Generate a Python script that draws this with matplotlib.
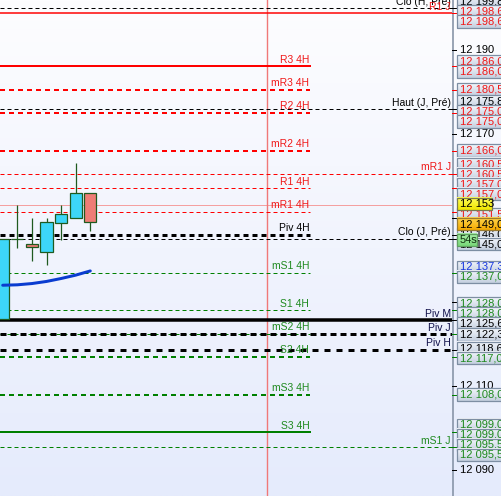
import numpy as np
import matplotlib.pyplot as plt
from matplotlib.patches import Rectangle
import matplotlib.transforms as mtransforms

plt.rcParams['font.family'] = ['Liberation Sans', 'DejaVu Sans']
plt.rcParams['lines.scale_dashes'] = False

# candles, oldest first
c_open = [12126.0, 12144.9, 12143.9, 12142.0, 12148.9, 12149.9, 12155.9]
c_high = [12145.0, 12153.0, 12149.9, 12150.0, 12153.0, 12163.0, 12155.9]
c_low = [12126.0, 12142.9, 12139.8, 12138.8, 12144.8, 12149.9, 12146.9]
c_close = [12145.0, 12145.0, 12143.0, 12149.0, 12150.9, 12155.9, 12149.0]
ma_vals = [12134.0, 12134.1, 12134.4, 12134.9, 12135.6, 12136.4, 12137.4]
ma_label = 12137.3
last_price = 12153.0
timer_text = '54s'
now_index = 18.1
period_end = 21.05

# 4H pivot levels
names_4h = ['R3 4H', 'mR3 4H', 'R2 4H', 'mR2 4H', 'R1 4H', 'mR1 4H', 'Piv 4H',
            'mS1 4H', 'S1 4H', 'mS2 4H', 'S2 4H', 'mS3 4H', 'S3 4H']
prices_4h = [12186.0, 12180.5, 12175.0, 12166.0, 12157.0, 12151.5, 12146.0,
             12137.0, 12128.0, 12122.5, 12117.0, 12108.0, 12099.0]
box_4h = [1, 1, 1, 1, 1, 1, 1, 1, 1, 0, 1, 1, 1]

# daily / weekly / monthly levels (full width)
names_day = ['Clo (H, Pré)', 'R1 J', 'Haut (J, Pré)', 'mR1 J', 'Clo (J, Pré)',
             'Piv M', 'Piv J', 'Piv H', 'mS1 J']
prices_day = [12199.85, 12198.67, 12175.8, 12160.5, 12145.0,
              12125.67, 12122.33, 12118.67, 12095.5]

# levels that show a second price box on the scale
dup_prices = [12198.67, 12186.0, 12175.0, 12160.5, 12157.0, 12128.0, 12099.0, 12095.5]
dup_colors = ['red', 'red', 'red', 'red', 'red', 'green', 'green', 'green']
axis_ticks = [12190, 12170, 12150, 12130, 12110, 12090]

# styles
RED, GREEN, BLACK, NAVY = '#ff0000', '#008000', '#000000', '#10104a'
TRED, TGREEN = '#f01818', '#1f8a1f'
col_4h = [RED] * 6 + [BLACK] + [GREEN] * 6
txt_4h = [TRED] * 6 + [BLACK] + [TGREEN] * 6
lw_4h = [2, 2, 2, 2, 1, 1, 3, 1, 1, 1, 2, 2, 2]
dash_4h = [None, (5, 4), (5, 4), (5, 4), (4, 3), (4, 3), (5, 4),
           (4, 3), (4, 3), (4, 3), (5, 4), (5, 4), None]
col_day = [BLACK, RED, BLACK, RED, BLACK, BLACK, BLACK, BLACK, GREEN]
txt_day = [BLACK, TRED, BLACK, TRED, BLACK, NAVY, NAVY, NAVY, TGREEN]
lw_day = [1, 1.5, 1, 1, 1, 3.5, 3, 3, 1]
dash_day = [(4, 3), None, (4, 3), (4, 3), (4, 3), None, (6, 4), (6, 6), (4, 3)]
cmap = {'red': TRED, 'green': TGREEN, 'black': BLACK, 'blue': '#1838e0'}

W, H = 501, 496
AX_W = 452
ymin, ymax = 12083.9, 12201.8
ppu = H / (ymax - ymin)
PX = 0.72


def ls(d):
    return '-' if d is None else (0, (d[0] * PX, d[1] * PX))


def fmt(p, dec=2):
    return f"{p:,.{dec}f}".replace(',', ' ').replace('.', ',')


def vgrad(c_top, c_bot, n=64):
    g = np.linspace(0, 1, n)[:, None, None]
    a = np.array(c_top) / 255
    b = np.array(c_bot) / 255
    return a + (b - a) * g


fig = plt.figure(figsize=(W / 100, H / 100), dpi=100)
bg = fig.add_axes([0, 0, 1, 1], zorder=-10)
bg.imshow(vgrad([253, 253, 255], [229, 235, 252], 256), aspect='auto', extent=[0, 1, 0, 1])
bg.axis('off')

ax = fig.add_axes([0, 0, AX_W / W, 1])
ax.set_facecolor('none')
ax.set_xlim(-0.185, 30.77)
ax.set_ylim(ymin, ymax)
ax.axis('off')
trans = mtransforms.blended_transform_factory(ax.transAxes, ax.transData)

# current price and time
ax.axhline(last_price, color='#f4a0a0', lw=PX, zorder=1)
ax.axvline(now_index, color='#f07878', lw=1.0, zorder=1)

for name, p, c, tc, lw, d in zip(names_4h, prices_4h, col_4h, txt_4h, lw_4h, dash_4h):
    ax.plot([-0.185, period_end], [p, p], color=c, lw=lw * PX, ls=ls(d), zorder=2)
    ax.annotate(name, (period_end - 0.05, p), xytext=(0, 2.6), textcoords='offset points',
                ha='right', va='baseline', fontsize=7.5, color=tc, zorder=6)

for name, p, c, tc, lw, d in zip(names_day, prices_day, col_day, txt_day, lw_day, dash_day):
    ax.axhline(p, color=c, lw=lw * PX, ls=ls(d), zorder=3)
    ax.annotate(name, (0.9975, p), xycoords=trans, xytext=(0, 2.6), textcoords='offset points',
                ha='right', va='baseline', fontsize=7.5, color=tc, zorder=6)

# candles
for i, (o, h, l, c) in enumerate(zip(c_open, c_high, c_low, c_close)):
    fc = '#3dd6f8' if c >= o else '#ee7d76'
    ax.vlines(i, l, h, color='#1f5a1f', lw=0.9, zorder=4)
    ax.add_patch(Rectangle((i - 0.42, min(o, c)), 0.84, max(abs(c - o), 0.15),
                           fc=fc, ec='#1f5a1f', lw=0.9, zorder=5))
ax.plot(range(len(ma_vals)), ma_vals, color='#0a3cd0', lw=3 * PX, zorder=5,
        solid_capstyle='round')

# price scale
rax = fig.add_axes([AX_W / W, 0, (W - AX_W) / W, 1])
rax.set_facecolor('none')
rax.axis('off')
rax.set_autoscale_on(False)
rax.set_xlim(0, W - AX_W)
rax.set_ylim(ymin, ymax)
rax.axvline(0.5, color='#8895a8', lw=1.2, zorder=1)

for t in axis_ticks:
    rax.plot([0, 4], [t, t], color=BLACK, lw=PX, zorder=1)
    rax.text(8, t, fmt(t, 0), va='center', fontsize=8, color=BLACK, zorder=1)

# price boxes
entries = []
for p, c in zip(prices_day, col_day):
    entries.append((p, {RED: 'red', GREEN: 'green'}.get(c, 'black'), 'n'))
for p, c, b in zip(prices_4h, col_4h, box_4h):
    if b:
        entries.append((p, {RED: 'red', GREEN: 'green'}.get(c, 'black'), 'n'))
for p, c in zip(dup_prices, dup_colors):
    entries.append((p, c, 'n'))
entries.append((ma_label, 'blue', 'n'))
entries.append((last_price, 'black', 'last'))
entries.append((c_close[-1], 'black', 'close'))
entries.sort(key=lambda e: -e[0])

for p, c in zip(prices_day + prices_4h, col_day + col_4h):
    rax.plot([0, 5], [p, p], color=c, lw=PX, zorder=1)


def spread(targets, gap):
    groups = [[t] for t in targets]

    def pos(gr):
        m = np.mean(gr)
        n = len(gr)
        return [m + gap * ((n - 1) / 2 - k) for k in range(n)]
    merged = True
    while merged:
        merged = False
        for k in range(len(groups) - 1):
            if pos(groups[k])[-1] - pos(groups[k + 1])[0] < gap:
                groups[k] = groups[k] + groups[k + 1]
                del groups[k + 1]
                merged = True
                break
    out = []
    for gr in groups:
        out += pos(gr)
    return out


ys = spread([e[0] for e in entries], 10 / ppu)
bh = 12.5 / ppu
box_fill = vgrad([245, 248, 253], [196, 207, 223])
for k, ((p, c, kind), y) in enumerate(zip(entries, ys)):
    if kind == 'last':
        fill, ec, w, z, txt = vgrad([255, 255, 90], [240, 230, 0]), '#7a7a50', 35, 8, fmt(p, 0)
    elif kind == 'close':
        fill, ec, w, z, txt = vgrad([255, 215, 80], [245, 170, 0]), '#9a7a30', 60, 8, fmt(p)
    else:
        fill, ec, w, z, txt = box_fill, '#7d8ea3', 60, 3 + k * 0.01, fmt(p)
    rax.imshow(fill, aspect='auto', extent=[5, 5 + w, y - bh / 2, y + bh / 2], zorder=z)
    rax.add_patch(Rectangle((5, y - bh / 2), w, bh, fc='none', ec=ec, lw=0.9, zorder=z + 0.002))
    rax.text(8, y, txt, va='center', fontsize=8, color=cmap[c], zorder=z + 0.005)
    if kind == 'close':
        ty = y - 16 / ppu
        rax.imshow(vgrad([170, 240, 170], [120, 215, 120]), aspect='auto',
                   extent=[5, 25, ty - bh / 2, ty + bh / 2], zorder=9)
        rax.add_patch(Rectangle((5, ty - bh / 2), 20, bh, fc='none', ec='#60a060',
                                lw=0.9, zorder=9.002))
        rax.text(8, ty, timer_text, va='center', fontsize=8, color='#103010', zorder=9.1)

rax.set_xlim(0, W - AX_W)
rax.set_ylim(ymin, ymax)
fig.savefig('out.png', dpi=100)
